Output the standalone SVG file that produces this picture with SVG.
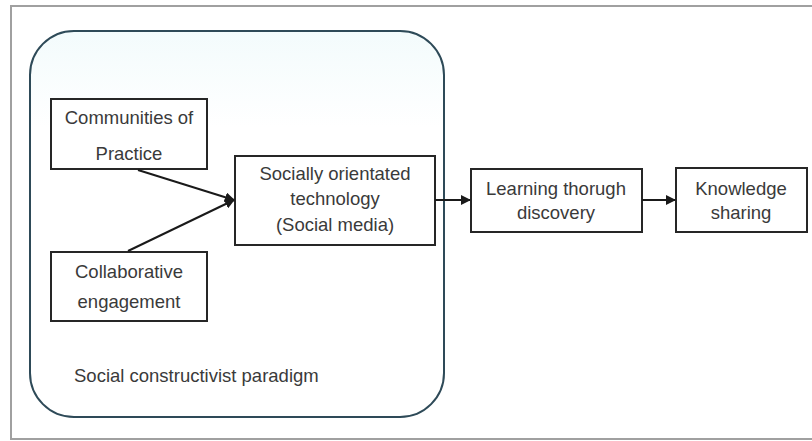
<svg xmlns="http://www.w3.org/2000/svg" width="812" height="441" viewBox="0 0 812 441">
  <style>
    .box { fill: #ffffff; stroke: #262626; stroke-width: 2; }
    .lbl { font-family: "Liberation Sans", Arial, sans-serif; font-size: 18.5px; fill: #3a3a3a; text-anchor: middle; }
    .conn { stroke: #1a1a1a; stroke-width: 2; fill: none; }
  </style>
  <defs>
    <marker id="arrow" viewBox="0 0 10 10" refX="9" refY="5" markerWidth="5" markerHeight="5" orient="auto" markerUnits="strokeWidth">
      <path d="M0,0 L10,5 L0,10 z" fill="#1a1a1a"/>
    </marker>
    <linearGradient id="paradigmFill" x1="0" y1="0" x2="0" y2="1">
      <stop offset="0" stop-color="#f3fbfc"/>
      <stop offset="0.25" stop-color="#ffffff"/>
      <stop offset="1" stop-color="#ffffff"/>
    </linearGradient>
  </defs>

  <rect width="812" height="441" fill="#ffffff"/>
  <!-- outer frame -->
  <path d="M812,6 L11,6 L11,439 L812,439" fill="none" stroke="#a0a0a0" stroke-width="2"/>

  <!-- paradigm container -->
  <g id="paradigm">
    <rect x="30" y="31" width="414" height="386" rx="44" ry="44" fill="url(#paradigmFill)" stroke="#2e4a58" stroke-width="2"/>
    <text x="74" y="382" class="lbl" style="text-anchor:start">Social constructivist paradigm</text>
  </g>

  <g id="communities">
    <rect x="51" y="99" width="156" height="70" class="box"/>
    <text x="129" y="124" class="lbl">Communities of</text>
    <text x="129" y="160" class="lbl">Practice</text>
  </g>

  <g id="collaborative">
    <rect x="51" y="252" width="156" height="69" class="box"/>
    <text x="129" y="278" class="lbl">Collaborative</text>
    <text x="129" y="308" class="lbl">engagement</text>
  </g>

  <g id="social-tech">
    <rect x="235" y="156" width="200" height="89" class="box"/>
    <text x="335" y="180" class="lbl">Socially orientated</text>
    <text x="335" y="205" class="lbl">technology</text>
    <text x="335" y="231" class="lbl">(Social media)</text>
  </g>

  <g id="learning">
    <rect x="471" y="169" width="171" height="63" class="box"/>
    <text x="556" y="195" class="lbl">Learning thorugh</text>
    <text x="556" y="219" class="lbl">discovery</text>
  </g>

  <g id="knowledge">
    <rect x="676" y="168" width="131" height="64" class="box"/>
    <text x="741" y="195" class="lbl">Knowledge</text>
    <text x="741" y="219" class="lbl">sharing</text>
  </g>

  <g id="connectors">
    <line x1="138" y1="170" x2="234" y2="200" class="conn" marker-end="url(#arrow)"/>
    <line x1="128" y1="251" x2="234" y2="200" class="conn" marker-end="url(#arrow)"/>
    <line x1="435" y1="200" x2="470" y2="200" class="conn" marker-end="url(#arrow)"/>
    <line x1="642" y1="200" x2="675" y2="200" class="conn" marker-end="url(#arrow)"/>
  </g>
</svg>
